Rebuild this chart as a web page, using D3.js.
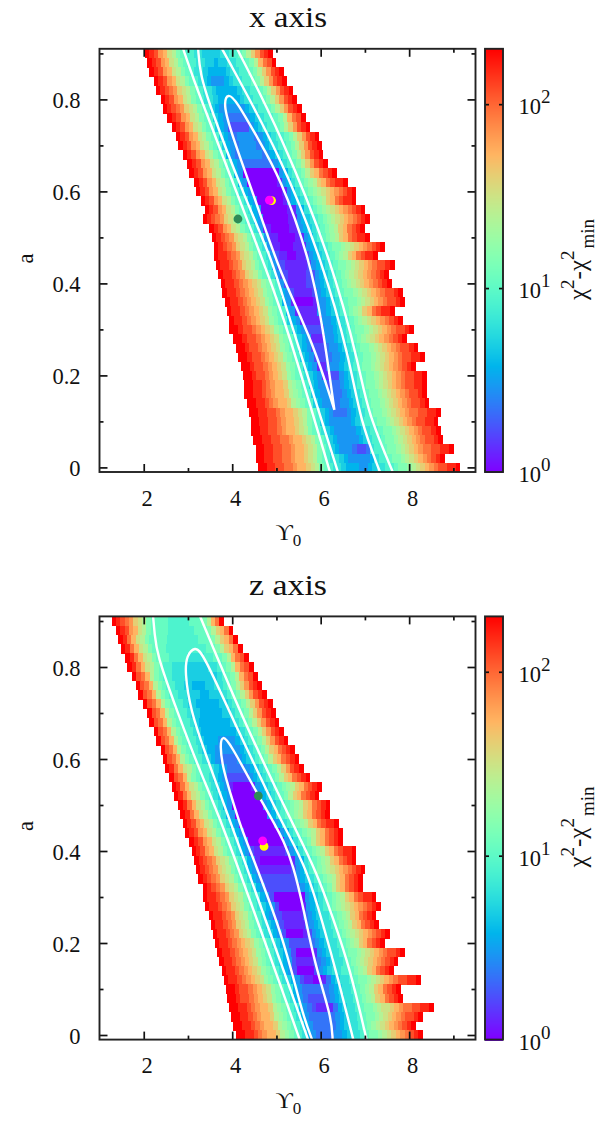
<!DOCTYPE html>
<html><head><meta charset="utf-8">
<script src="https://cdn.jsdelivr.net/npm/d3@7"></script>
<style>
html,body{margin:0;padding:0;background:#fff}
svg{display:block}
text{font-family:"Liberation Serif",serif;fill:#111}
</style></head><body>
<svg id="c" width="598" height="1124"></svg>
<script>
// Rows run from a = 0.90 down to a = 0.00 in steps of 0.02.
const rowA = d3.range(46).map(i => +(0.90 - i * 0.02).toFixed(2));
// Cell values per row: base-36 digits, level L means chi2 = 200^(L/20). Spaces are ignored.
const xStart1 = [2.03,2.08,2.13,2.23,2.28,2.38,2.43,2.53,2.63,2.73,2.78,2.88,2.98,3.03,3.14,3.18,3.29,3.38,3.33,3.48,3.54,3.59,3.59,3.63,3.69,3.74,3.78,3.84,3.88,3.93,3.93,4.02,4.08,4.14,4.19,4.24,4.27,4.27,4.33,4.38,4.42,4.42,4.48,4.53,4.53,4.58];
const xEnd1 = [4.92,4.99,5.17,5.22,5.37,5.46,5.56,5.66,5.76,5.96,6.01,6.05,6.16,6.36,6.61,6.80,6.80,7.00,7.11,7.00,7.11,7.45,7.29,7.66,7.54,7.60,7.85,7.90,7.66,7.85,8.10,7.95,8.20,8.35,8.15,8.40,8.40,8.40,8.45,8.70,8.65,8.70,8.75,9.00,8.80,9.15];
const levels1 = [
"kjigfdca9 887 766667 788 9acegijk",
"kjigfdca9 887 7665667 788 9acfhik",
"kjigfdca9 87 76555567 788 9acegijk",
"kjigfdca9 87 65444567 788 9acegijk",
"kjihgedca9 87 765555567 788 9acegijk",
"kjigfdca9 87 765555567 788 9acegijk",
"kjihgedca9 8 654 4444 456 788 9acegijk",
"kjigfdca9 8 654 3333 456 788 9acfhik",
"kjigfdca9 8 654 22222 456 788 9acegijk",
"kjigfdca9 8 654 344443 456 788 9acegijk",
"kjigfdca9 8 654 344443 456 788 9acegijk",
"kjigfdca9 8 54 3444443 456 78 9acegijk",
"kjigfdca9 8 54 3333333 45 78 9acegijk",
"kjigfdca9 8 54 00000000 45 78 9acefhijk",
"kjigfdca9 8 54 00000001 45 78 9abcefhijjk",
"kjigfdca9 87 54 00000001 45 78 9abcdefghijk",
"kjigfdca9 87 54 0000001 456 78 9abcefhijjk",
"kjigfdca9 87 54 00000011 45 78 9abcdefghijk",
"kjihgedca9 87 54 00000011 456 78 9abcdefghijk",
"kjigfdca9 87 4 11000011 456 78 9abcefhijk",
"kjihgedca9 87 4 11000011 45 78 9abcefhijjk",
"kjihgedca9 87 4 11000111 456 78 9aabcdefghijk",
"kjjihgedca9 87 4 21100112 456 78 9abcefhijjk",
"kjjihgedca9 87 4 22111112 456 78 9aabcdefghiijk",
"kjjihgedca9 87 4 22111122 456 78 9abcdefghijk",
"kjjihgfedba9 8 4 2111122 456 78 9abcdefghijk",
"kjjihgfedba9 8 54 211112 456 78 9aabcdefghiijk",
"kjjihgfedba9 8 54 100001 4456 78 9aabcdefghiijk",
"kjjihgfedba9 8 54 11111 4456 78 9abcefhijjk",
"kjjihgfedba9 8 654 11111 4456 78 9abcdefghijk",
"kkjiihgfedba9 8 654 2222 4456 78 9aabcdefghiijk",
"kkjiihgfedba9 8 654 111 4456 78 9abcdefghijk",
"kkjiihgfedba9 8 654 222 34456 78 9aabcdefghiijk",
"kkjiihgfedba9 8 654 222 34456 78 9aabcdefghiijjk",
"kkjiihgfedba9 8 654 11 34456 78 9aabcdefghijk",
"kkjiihgfedba9 87 654 11 22456 78 9aabcdefghiijjk",
"kkjjihgffecba9 8 6544 2 33456 78 9aabcdefghiijjk",
"kkjjihgffecba9 8 6544 3 33456 78 9aabcdefghiijk",
"kkjjihgffecba9 8 6544 334456 78 9aabcdefghiijk",
"kkjjiihgffedca9 8 654333456 78 9aabcdefghhiijjk",
"kkjjiihgffedca9 8 654444456 788 9aabcdefghiijjk",
"kkjjiihgffedca9 87 654444456 788 9aabcdefghiijk",
"kkjjiihhgffedca9 8 654444456 788 9aabcdefghiijk",
"kkjjiihhgffedca9 8 654443223 788 9aabcdefghhiijjk",
"kkjjiihhgffedca9 87 765444445 788 9aabcdefghijk",
"kkjjiihhgffedca9 87 7655544567 788 9aabcdefghiijjk"
];
const xStart2 = [1.28,1.37,1.42,1.48,1.58,1.63,1.73,1.82,1.88,1.98,2.08,2.13,2.23,2.28,2.38,2.43,2.48,2.58,2.63,2.68,2.78,2.83,2.88,2.93,3.03,3.08,3.14,3.18,3.23,3.33,3.33,3.38,3.48,3.51,3.56,3.61,3.66,3.71,3.76,3.81,3.86,3.88,3.93,3.97,4.02,4.08];
const xEnd2 = [3.81,4.02,4.12,4.23,4.37,4.48,4.57,4.67,4.78,4.91,4.97,5.06,5.16,5.26,5.41,5.51,5.61,5.76,6.01,5.96,6.21,6.21,6.41,6.50,6.50,6.80,6.80,7.00,6.95,6.95,7.25,7.35,7.25,7.30,7.55,7.45,7.90,7.75,7.65,8.25,7.81,7.85,8.55,8.30,8.15,8.30];
const levels2 = [
"kjihgedca9 99988888999 acfhk",
"kjigfdca9 999888888999 acefhk",
"kjhfdca9 9998888888999 acefhk",
"kjhfdca9 9988888888899 acefhk",
"kjhfdca9 9988887 777 889 9acfhik",
"kjhfdca9 88777 66666 778 9acfhik",
"kihfca9 88777 6666666 78 9acfhik",
"kihfca9 8877 6655566 778 9acegijk",
"kihfca9 8877 66655666 78 9acegijk",
"kihfca9 887 665555566 78 9acegijk",
"kihfca9 887 665555566 78 9acegijk",
"kihfca9 887 655555556 78 9acegijk",
"kihfca9 887 6555555556 78 9acegijk",
"kihfca9 887 6555444456 78 9acegijk",
"kihfca9 887 6554 444 4456 78 9acefhijk",
"kihfca9 887 654 3333 456 78 9acefhijk",
"kjhfdca9 887 654 3333 456 78 9acegijk",
"kihfca9 887 654 22222 456 78 9acefhijk",
"kjhfdca9 87 654 100001 456 78 9abcefhijk",
"kjhfdca9 87 654 000000 456 78 9acefhijk",
"kjhfdca9 87 54 0000000 456 78 9abcefhijk",
"kjhfdca9 87 54 0000000 45 78 9abcefhijk",
"kjigfdca9 87 54 00000000 45 78 9abcefhijjk",
"kjigfdca9 87 54 00000000 45 78 9abcefhijk",
"kjigfdca9 87 54 00000000 45 78 9acefhijk",
"kjigfdca9 87 54 211111112 45 78 9abcefhijjk",
"kjihgedca9 87 54 100000001 45 78 9abcefhijk",
"kjihgedca9 87 54 111111112 45 78 9abcdefghijk",
"kjihgedca9 87 54 22222222 456 78 9abcefhijk",
"kjihgedca9 87 54 22222222 456 78 9acefhijk",
"kjjihgedca9 87 54 20000000 456 78 9abcefhijjk",
"kjjihgedca9 87 654 2000001 456 78 9abcdefghijk",
"kjjihgedca9 87 54 2211111 3456 778 9abcefhijk",
"kjjihgedca9 87 654 211111 3456 778 9abcefhijk",
"kjjihgedca9 87 654 200001 2456 778 9abcdefghijk",
"kjjihgfedba9 87 654 22222 3456 778 9abcefhijk",
"kjjihgfedba9 87 654 20000 1456 778 9aabcdefghiijk",
"kjjihgfedba9 87 654 21111 23456 778 9abcdefghijk",
"kjjihgfedba9 87 54 20000 2456 7788 9abcefhijk",
"kjjihgfedba9 87 654 21100 1356 778 9aabcdefghiijjk",
"kkjiihgfedba9 87 54 33333 3456 778 9abcefhijk",
"kkjiihgfedba9 87 54 32222 3456 778 9abcefhijk",
"kkjjihgffecba9 87 54 32111 1356 778 9aabcddefghhiijjk",
"kkjjihgffecba9 87 54 33333 3456 778 9aabcdefghiijk",
"kkjjihgffecba9 87 54 3333 3456 778 9abcdefghijk",
"kkjjihgffecba9 87 54 333 34456 778 9aabcdefghijk"
];
// Contours (white): Upsilon0, a
const p1OuterL = [[2.89,.91],[2.89,.91],[3.14,.84],[3.38,.78],[3.79,.675],[4.69,.451],[5.08,.347],[5.44,.24],[6.21,-.01],[6.21,-.01]];
const p1OuterR = [[4.11,.91],[4.11,.91],[5.08,.729],[6.25,.451],[6.89,.212],[7.07,.118],[7.63,-.01],[7.63,-.01]];
const p1SecondL = [[3.23,.91],[3.23,.91],[3.27,.857],[3.50,.784],[4.24,.597],[4.90,.451],[5.08,.39],[6.39,-.01],[6.39,-.01]];
const p1SecondR = [[3.77,.91],[3.77,.91],[5.08,.68],[6.03,.451],[6.66,.234],[6.89,.103],[7.34,-.01],[7.34,-.01]];
const p1Inner = [[6.31,.125],[6.31,.125],[5.83,.271],[5.08,.423],[4.63,.553],[3.95,.734],[3.80,.79],[3.90,.815],[4.11,.795],[4.56,.718],[5.08,.632],[5.76,.451],[6.05,.305],[6.31,.125],[6.31,.125]];
const p2OuterL = [[2.21,.911],[2.21,.911],[2.25,.87],[2.29,.83],[2.74,.707],[3.35,.554],[3.80,.457],[5.53,-.011],[5.53,-.011]];
const p2OuterR = [[3.27,.911],[3.27,.911],[4.25,.685],[5.08,.517],[5.38,.457],[5.91,.354],[6.28,.254],[6.66,.146],[7.04,-.011],[7.04,-.011]];
const p2Second = [[5.72,-.011],[5.72,-.011],[3.99,.457],[3.42,.604],[3.05,.707],[2.93,.79],[2.97,.825],[3.16,.845],[3.34,.83],[4.02,.685],[4.85,.517],[5.19,.45],[5.68,.363],[6.06,.239],[6.43,.109],[6.74,-.011],[6.74,-.011]];
const p2Inner = [[5.81,-.011],[5.81,-.011],[5.57,.05],[5.15,.217],[4.31,.424],[4.18,.457],[3.95,.528],[3.79,.58],[3.72,.63],[3.78,.652],[3.95,.635],[4.58,.522],[4.97,.457],[5.15,.424],[5.38,.37],[5.61,.276],[5.87,.152],[6.25,.037],[6.27,-.011],[6.27,-.011]];
// Best-fit markers: Upsilon0, a
const p1Yellow=[4.89,.58], p1Magenta=[4.84,.581], p1Green=[4.13,.54];
const p2Yellow=[4.72,.41], p2Magenta=[4.69,.422], p2Green=[4.59,.52];
const xMajor=[2,4,6,8], xMinor=[3,5,7,9], yMajor=[0,.2,.4,.6,.8], yMinor=[.1,.3,.5,.7,.9];
const cbTicks=[1,10,100], titles=["x axis","z axis"];

const svg=d3.select("#c");
const rainbow=t=>{const c=v=>Math.round(255*Math.max(0,Math.min(1,v)));
  return `rgb(${c(Math.abs(2*t-.5))},${c(Math.sin(Math.PI*t))},${c(Math.cos(Math.PI*t/2))})`;};
const colorT=d3.scaleLog().domain([1,200]).range([0,1]).clamp(true);

function panel(cfg){
  const g=svg.append("g");
  const x=d3.scaleLinear().domain([1,9.5]).range([99.5,475.5]);
  const y=d3.scaleLinear().domain([-.01,.91]).range([cfg.bottom,cfg.bottom-423.2]);
  const clipId="clip"+cfg.id;
  g.append("clipPath").attr("id",clipId).append("rect")
    .attr("x",x(1)).attr("y",y(.91)).attr("width",x(9.5)-x(1)).attr("height",y(-.01)-y(.91));
  const cells=[];
  rowA.forEach((a,i)=>{
    const s=cfg.levels[i].replace(/ /g,""), x0=cfg.start[i], w=(cfg.end[i]-x0)/s.length;
    for(let k=0;k<s.length;k++){
      cells.push({a,x0:x0+k*w,x1:x0+(k+1)*w,chi:Math.pow(200,parseInt(s[k],36)/20)});
    }
  });
  const gc=g.append("g").attr("clip-path",`url(#${clipId})`);
  gc.selectAll("rect").data(cells).join("rect")
    .attr("shape-rendering","crispEdges")
    .attr("x",d=>x(d.x0)).attr("width",d=>x(d.x1)-x(d.x0)+.4)
    .attr("y",d=>y(d.a+.01)).attr("height",d=>y(d.a-.01)-y(d.a+.01)+.4)
    .attr("fill",d=>rainbow(colorT(d.chi)));
  const line=d3.line().x(d=>x(d[0])).y(d=>y(d[1])).curve(d3.curveBasis);
  const gl=g.append("g").attr("clip-path",`url(#${clipId})`).attr("fill","none").attr("stroke","#fff").attr("stroke-width",2.4).attr("stroke-linejoin","round");
  cfg.lines.forEach(l=>gl.append("path").attr("d",line(l)));
  [[cfg.yellow,"#ffff00"],[cfg.magenta,"#ff00ff"],[cfg.green,"#2e8b57"]].forEach(([p,c])=>
    g.append("circle").attr("cx",x(p[0])).attr("cy",y(p[1])).attr("r",4.4).attr("fill",c));
  // Axes
  const style=s=>{s.select(".domain").remove();s.selectAll("line").attr("stroke","#111").attr("stroke-width",1.7);};
  const h=y(-.01),t=y(.91),l=x(1),r=x(9.5);
  g.append("g").attr("transform",`translate(0,${h})`).call(d3.axisBottom(x).tickValues(xMajor).tickSize(-8).tickPadding(29).tickFormat(d3.format("d"))).call(style)
    .selectAll("text").attr("font-size",22.5).attr("font-family","Liberation Serif").attr("fill","#111").attr("dx",3).attr("dy","0.2em");
  g.append("g").attr("transform",`translate(0,${h})`).call(d3.axisBottom(x).tickValues(xMinor).tickSize(-4).tickFormat("")).call(style);
  g.append("g").attr("transform",`translate(0,${t})`).call(d3.axisTop(x).tickValues(xMajor).tickSize(-8).tickFormat("")).call(style);
  g.append("g").attr("transform",`translate(0,${t})`).call(d3.axisTop(x).tickValues(xMinor).tickSize(-4).tickFormat("")).call(style);
  g.append("g").attr("transform",`translate(${l},0)`).call(d3.axisLeft(y).tickValues(yMajor).tickSize(-8).tickPadding(19).tickFormat(d=>d===0?"0":d3.format(".1f")(d))).call(style)
    .selectAll("text").attr("font-size",22.5).attr("font-family","Liberation Serif").attr("fill","#111").attr("dy","0.38em");
  g.append("g").attr("transform",`translate(${l},0)`).call(d3.axisLeft(y).tickValues(yMinor).tickSize(-4).tickFormat("")).call(style);
  g.append("g").attr("transform",`translate(${r},0)`).call(d3.axisRight(y).tickValues(yMajor).tickSize(-8).tickFormat("")).call(style);
  g.append("g").attr("transform",`translate(${r},0)`).call(d3.axisRight(y).tickValues(yMinor).tickSize(-4).tickFormat("")).call(style);
  g.append("rect").attr("x",l).attr("y",t).attr("width",r-l).attr("height",h-t).attr("fill","none").attr("stroke","#222").attr("stroke-width",1.9);
  // Colour bar
  const cx0=485,cx1=503,cy=d3.scaleLog().domain([1,200]).range([h,t]);
  const cb=g.append("g");
  cb.selectAll("rect").data(d3.range(h-t)).join("rect")
    .attr("shape-rendering","crispEdges")
    .attr("x",cx0).attr("width",cx1-cx0).attr("y",d=>t+d).attr("height",1.4)
    .attr("fill",d=>rainbow(1-(d+.5)/(h-t)));
  g.append("g").attr("transform",`translate(${cx0},0)`).call(d3.axisLeft(cy).tickValues([10,100]).tickSize(-4).tickFormat("")).call(style);
  g.append("g").attr("transform",`translate(${cx1},0)`).call(d3.axisRight(cy).tickValues([10,100]).tickSize(-4).tickFormat("")).call(style);
  g.append("rect").attr("x",cx0).attr("y",t).attr("width",cx1-cx0).attr("height",h-t).attr("fill","none").attr("stroke","#222").attr("stroke-width",1.9);
  cbTicks.forEach(v=>{
    const txt=g.append("text").attr("x",518.5).attr("y",cy(v)+10).attr("font-size",22.5);
    txt.append("tspan").text("10");
    txt.append("tspan").attr("dy",-11).attr("font-size",19).text(Math.log10(v).toFixed(0));
  });
  // Labels
  g.append("text").attr("x",288).attr("y",cfg.bottom-445).attr("text-anchor","middle").attr("font-size",30.2)
    .attr("textLength",78).attr("lengthAdjust","spacingAndGlyphs").text(cfg.title);
  g.append("text").attr("transform",`translate(33,${(h+t)/2-2}) rotate(-90)`).attr("text-anchor","middle").attr("font-size",22.5).text("a");
  const xl=g.append("text").attr("x",275.5).attr("y",h+68).attr("font-size",24);
  xl.append("tspan").text("ϒ");
  xl.append("tspan").attr("dy",6).attr("font-size",17).text("0");
  const cl=g.append("text").attr("transform",`translate(586,${h-172}) rotate(-90)`).attr("font-size",25);
  cl.append("tspan").text("χ");
  cl.append("tspan").attr("dy",-12).attr("font-size",19).text("2");
  cl.append("tspan").attr("dy",12).text("-χ");
  cl.append("tspan").attr("dy",-12).attr("font-size",19).text("2");
  cl.append("tspan").attr("dy",20).attr("dx",2).attr("font-size",19).text("min");
}
panel({id:1,bottom:472,title:titles[0],start:xStart1,end:xEnd1,levels:levels1,
  lines:[p1OuterL,p1OuterR,p1SecondL,p1SecondR,p1Inner],yellow:p1Yellow,magenta:p1Magenta,green:p1Green});
panel({id:2,bottom:1039.6,title:titles[1],start:xStart2,end:xEnd2,levels:levels2,
  lines:[p2OuterL,p2OuterR,p2Second,p2Inner],yellow:p2Yellow,magenta:p2Magenta,green:p2Green});
</script>
</body></html>
